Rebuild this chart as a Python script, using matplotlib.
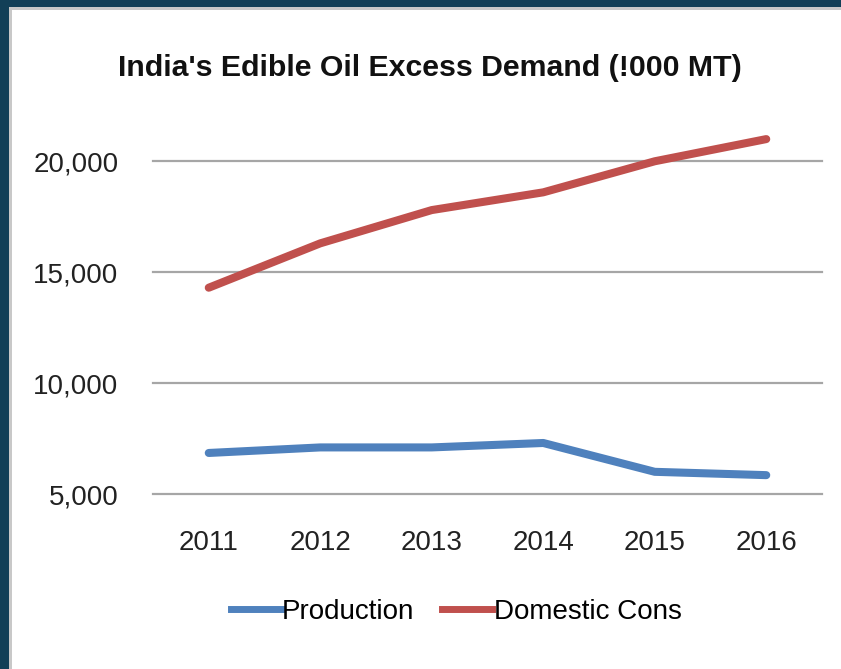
import matplotlib
matplotlib.use("Agg")
import matplotlib.pyplot as plt
from matplotlib.patches import Rectangle
from matplotlib.lines import Line2D
from matplotlib.ticker import FuncFormatter
from matplotlib import font_manager

years = ["2011", "2012", "2013", "2014", "2015", "2016"]
production = [6850, 7100, 7100, 7300, 6000, 5850]
domestic_cons = [14300, 16300, 17800, 18600, 20000, 21000]
y_ticks = [5000, 10000, 15000, 20000]

names = {f.name for f in font_manager.fontManager.ttflist}
narrow = "Liberation Sans Narrow" if "Liberation Sans Narrow" in names else "Liberation Sans"
plt.rcParams["font.family"] = [narrow, "DejaVu Sans"]

W, H = 841, 669
fig = plt.figure(figsize=(W / 100, H / 100), dpi=100, facecolor="#123f57")

# white card with a thin grey edge on the dark frame
fig.patches.append(Rectangle((9 / W, 0), 1, (H - 7) / H, transform=fig.transFigure,
                             facecolor="#c8c8c8", edgecolor="none", zorder=-2))
fig.patches.append(Rectangle((12 / W, 0), 1, (H - 10) / H, transform=fig.transFigure,
                             facecolor="white", edgecolor="none", zorder=-1))

ax = fig.add_axes([153 / W, (H - 494) / H, (822 - 153) / W, (494 - 128) / H])
ax.set_facecolor("none")
ax.set_zorder(1)

x = range(len(years))
ax.plot(x, production, color="#4f81bd", lw=5.8, solid_capstyle="round", zorder=3)
ax.plot(x, domestic_cons, color="#c0504d", lw=5.8, solid_capstyle="round", zorder=3)

ax.set_xlim(-0.5, len(years) - 0.5)
ax.set_ylim(5000, 21500)
ax.set_xticks(list(x))
ax.set_xticklabels(years)
ax.set_yticks(y_ticks)
ax.yaxis.set_major_formatter(FuncFormatter(lambda v, p: f"{int(v):,}"))
for v in y_ticks:
    ax.axhline(v, color="#a6a6a6", lw=1.6, zorder=1, clip_on=False)

for s in ax.spines.values():
    s.set_visible(False)
ax.tick_params(axis="both", length=0, labelsize=20, colors="#222222")
ax.tick_params(axis="y", pad=25)
ax.tick_params(axis="x", pad=26)

fig.text(0.511, (H - 68) / H, "India's Edible Oil Excess Demand (!000 MT)",
         ha="center", va="center", fontsize=21.75, fontweight="bold", color="#111111")

handles = [Line2D([], [], color="#4f81bd", lw=5), Line2D([], [], color="#c0504d", lw=5)]
fig.legend(handles, ["Production", "Domestic Cons"], loc="center",
           bbox_to_anchor=(456 / W, (H - 612) / H), ncol=2, frameon=False,
           fontsize=20, handlelength=1.8, handletextpad=0.05, columnspacing=1.0)

fig.savefig("out.png", dpi=100, facecolor=fig.get_facecolor())
